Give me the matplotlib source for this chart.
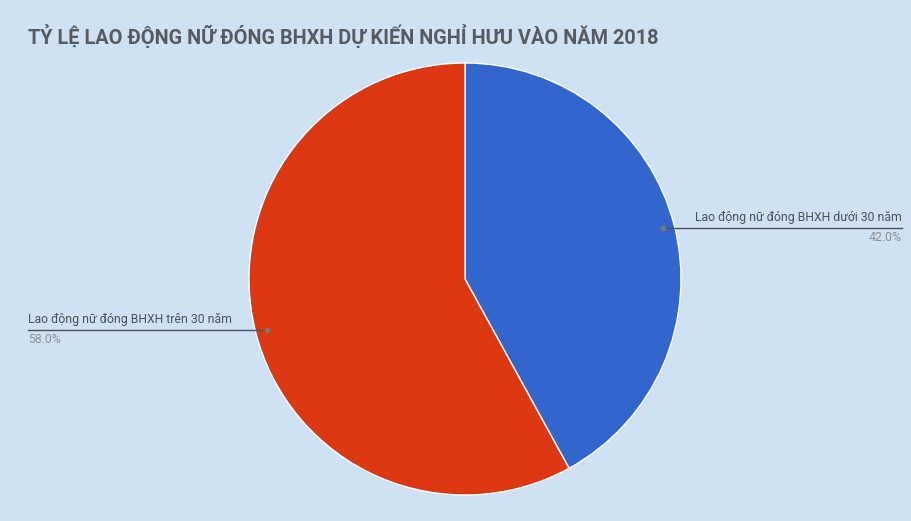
import numpy as np
import matplotlib
matplotlib.use("Agg")
import matplotlib.pyplot as plt

title = "TỶ LỆ LAO ĐỘNG NỮ ĐÓNG BHXH DỰ KIẾN NGHỈ HƯU VÀO NĂM 2018"
labels = ["Lao động nữ đóng BHXH dưới 30 năm", "Lao động nữ đóng BHXH trên 30 năm"]
values = [42.0, 58.0]
colors = ["#3366cc", "#dc3912"]

BG = "#cfe2f3"
W, H = 911, 521
fig = plt.figure(figsize=(W / 100, H / 100), dpi=100, facecolor=BG)
ax = fig.add_axes([0, 0, 1, 1])
ax.set_facecolor(BG)

cx, cy, R = 465, H - 279, 216
wedges, _ = ax.pie(values, colors=colors, startangle=90, counterclock=False,
                   center=(cx, cy), radius=R, frame=True,
                   wedgeprops=dict(edgecolor="white", linewidth=1))
ax.set_xlim(0, W)
ax.set_ylim(0, H)
ax.set_aspect("equal")
ax.axis("off")

fam = ["Roboto", "DejaVu Sans"]
fig.text(28 / W, 1 - 36 / H, title, fontsize=14.35, fontweight="bold", color="#555b61",
         family=fam, va="center", ha="left")

line_col = "#4a525a"
for i, w in enumerate(wedges):
    mid = np.deg2rad((w.theta1 + w.theta2) / 2)
    dx, dy = cx + 0.945 * R * np.cos(mid), cy + 0.945 * R * np.sin(mid)
    if np.cos(mid) > 0:
        x_end = 902
        ha = "right"
    else:
        x_end = 28
        ha = "left"
    ax.plot([dx, x_end], [dy, dy], color=line_col, lw=1)
    ax.plot([dx], [dy], "o", color="#777777", ms=3)
    ax.text(x_end, dy + 4, labels[i], ha=ha, va="bottom", fontsize=8.8, color="#4a525a", family=fam)
    ax.text(x_end, dy - 3, f"{values[i]:.1f}%", ha=ha, va="top", fontsize=8.8, color="#8a9096", family=fam)

fig.savefig("out.png", dpi=100, facecolor=BG)
